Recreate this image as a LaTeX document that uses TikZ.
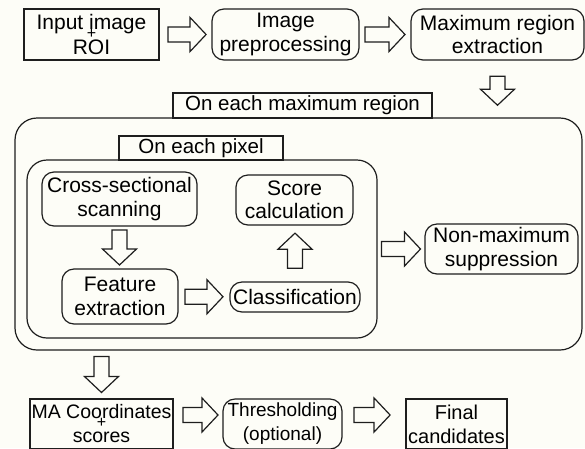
\documentclass[tikz,border=0pt]{standalone}
\usepackage{fontspec}
\setmainfont{Liberation Sans}
\begin{document}
\begin{tikzpicture}[x=1pt,y=-1pt,
  every node/.style={inner sep=0pt,outer sep=0pt},
  box/.style={draw=ink,line width=1.2pt,align=center,fill=paper,
    font=\fontsize{21}{23.5}\selectfont},
  rbox/.style={box,rounded corners=12pt},
  tag/.style={draw=ink,line width=1.2pt,fill=paper,
    font=\fontsize{20.5}{22}\selectfont},
  plus/.style={font=\fontsize{16}{16}\selectfont},
  arrowline/.style={draw=ink,line width=1.2pt,fill=paper,line join=miter},
  pics/barrow/.style={code={
    \draw[arrowline] ({-#1/2},-7.5) -- ({#1/2-16},-7.5) -- ({#1/2-16},-17)
      -- ({#1/2},0) -- ({#1/2-16},17) -- ({#1/2-16},7.5) -- ({-#1/2},7.5) -- cycle;}}]
\definecolor{ink}{RGB}{30,30,30}
\definecolor{paper}{RGB}{253,253,247}
\useasboundingbox (0,0) rectangle (585,448);
\fill[paper] (0,0) rectangle (585,448);
\clip (0,0) rectangle (585,448);

% top row
\node[box,minimum width=135pt,minimum height=51pt,
  font=\fontsize{21}{25}\selectfont,
  label={[plus,yshift=1pt]center:+}] (input) at (91.5,34.5) {Input image\\ROI};
\node[rbox,minimum width=147pt,minimum height=51pt] (prep) at (285.5,34.5) {Image\\preprocessing};
\node[rbox,minimum width=173pt,minimum height=51pt] (mre) at (497.5,34.5) {Maximum region\\extraction};

% region loop
\node[draw=ink,line width=1.2pt,rounded corners=22pt,minimum width=567pt,minimum height=232pt] (outer) at (298.5,234) {};
\node[tag,minimum width=259pt,minimum height=25pt] (tagmax) at (302.5,105.5) {On each maximum region};

% pixel loop
\node[draw=ink,line width=1.2pt,rounded corners=20pt,minimum width=350pt,minimum height=178pt] (inner) at (202,249) {};
\node[tag,minimum width=164pt,minimum height=24pt] (tagpix) at (201,148) {On each pixel};

\node[rbox,minimum width=155pt,minimum height=54pt] (cross) at (119.5,199) {Cross-sectional\\scanning};
\node[rbox,minimum width=116pt,minimum height=55pt] (feat) at (120,296.5) {Feature\\extraction};
\node[rbox,minimum width=130pt,minimum height=30pt] (cls) at (295,297) {Classification};
\node[rbox,minimum width=117pt,minimum height=50pt] (score) at (294.5,200) {Score\\calculation};
\node[rbox,minimum width=153pt,minimum height=50pt] (nms) at (501.5,249) {Non-maximum\\suppression};

% bottom row (boxes run past the lower edge)
\node[box,minimum width=143pt,minimum height=50pt,
  font=\fontsize{19.5}{24}\selectfont,
  label={[plus,yshift=1pt]center:+}] (ma) at (101.5,424) {MA Coordinates\\scores};
\node[rbox,minimum width=119pt,minimum height=50pt,
  font=\fontsize{19}{24}\selectfont] (thr) at (282.5,424) {Thresholding\\(optional)};
\node[box,minimum width=101pt,minimum height=50pt,
  font=\fontsize{20}{24}\selectfont] (final) at (456.5,424) {Final\\candidates};

% block arrows
\path (input.east) -- (prep.west) pic[pos=0.53]{barrow=38};
\path (prep.east) -- (mre.west) pic[pos=0.5]{barrow=40};
\path (mre.south) -- (mre.south |- outer.north) pic[pos=0.53,rotate=-90]{barrow=29};
\path (cross.south) -- (cross.south |- feat.north) pic[pos=0.5,rotate=-90]{barrow=35};
\path (feat.east) -- (cls.west) pic[pos=0.5]{barrow=38};
\path (cls.north) -- (cls.north |- score.south) pic[pos=0.55,rotate=90]{barrow=35};
\path (inner.east) -- (nms.west) pic[pos=0.5]{barrow=39};
\path (ma.north |- outer.south) -- (ma.north) pic[pos=0.5,rotate=-90]{barrow=36};
\path ([yshift=9pt]ma.east) -- ([yshift=9pt]thr.west) pic[pos=0.55]{barrow=35};
\path ([yshift=9pt]thr.east) -- ([yshift=9pt]final.west) pic[pos=0.47]{barrow=36};
\end{tikzpicture}
\end{document}
